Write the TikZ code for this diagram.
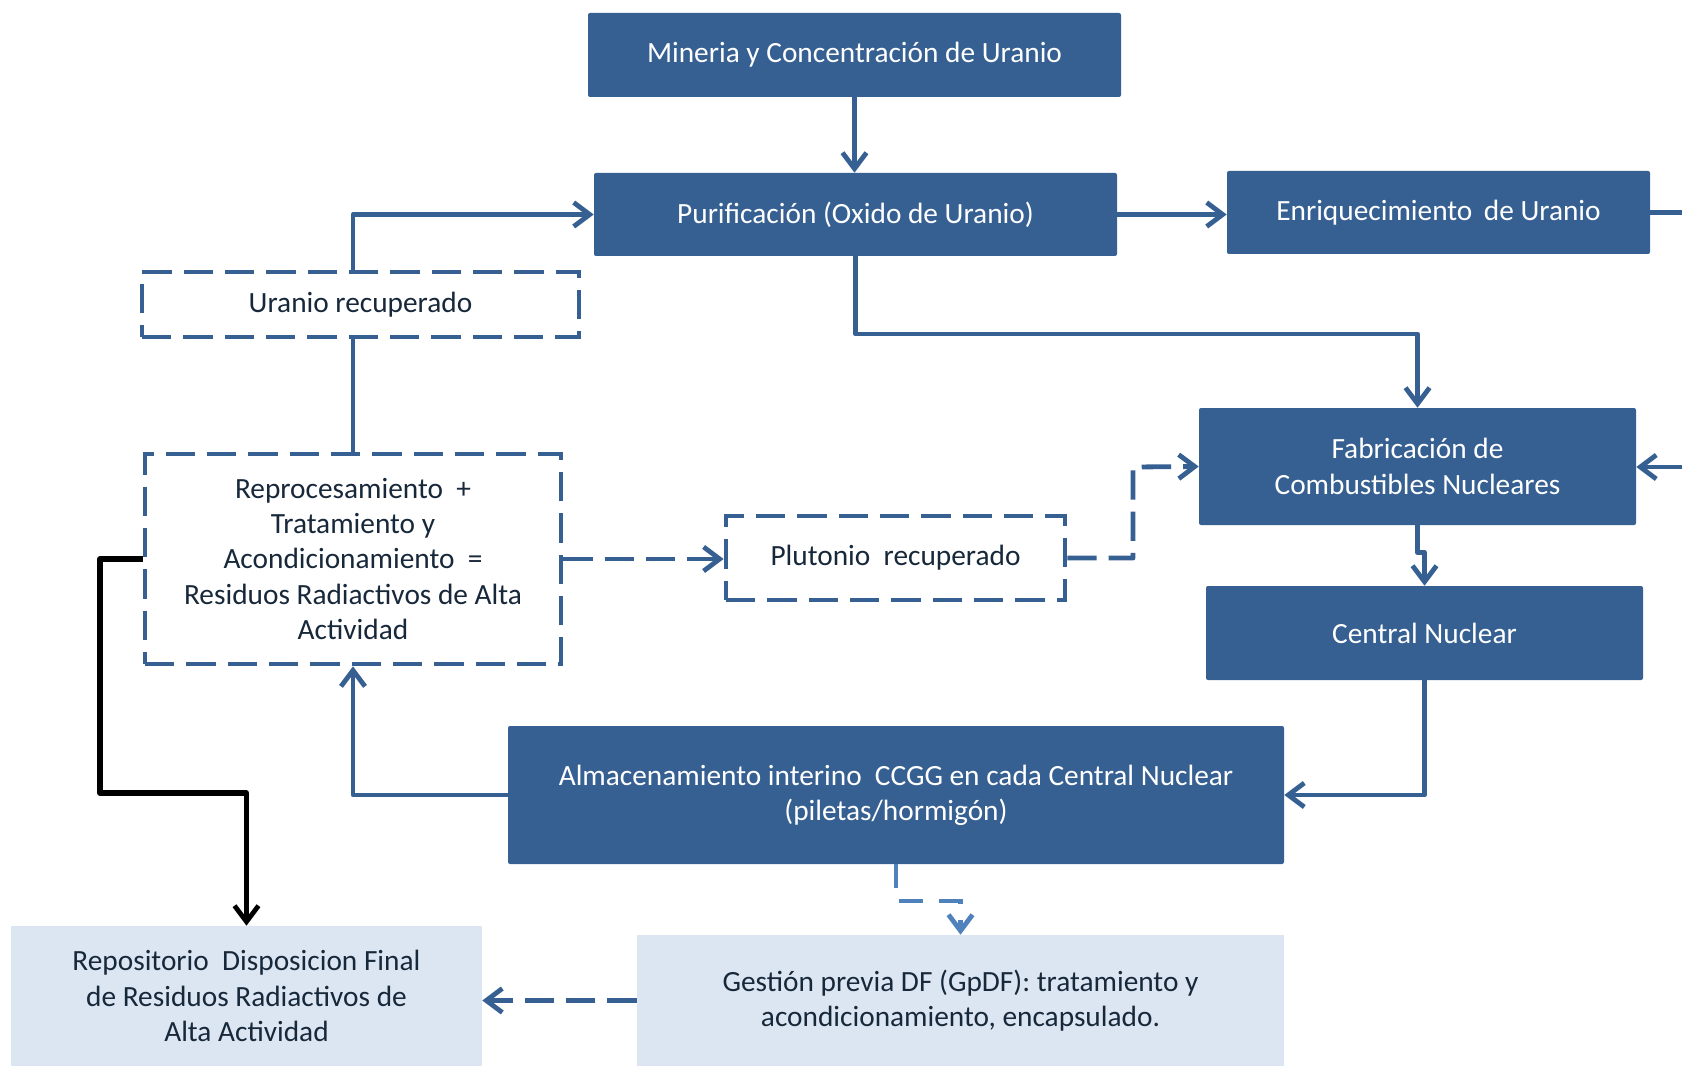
\documentclass[tikz,border=0pt]{standalone}
\usepackage{fontspec}
\setmainfont{Carlito}
\usetikzlibrary{arrows.meta}
\definecolor{dblue}{HTML}{376092}
\definecolor{lblue}{HTML}{4F81BD}
\definecolor{pale}{HTML}{DCE6F2}
\definecolor{ink}{HTML}{17283A}
\begin{document}
\begin{tikzpicture}[x=0.75pt,y=-0.75pt,
  txt/.style={font=\fontsize{22}{26.5}\selectfont, align=center, inner sep=0pt},
  dbox/.style={txt, fill=dblue, text=white, rounded corners=1.5pt},
  pbox/.style={txt, fill=pale, text=ink},
  dashbox/.style={txt, draw=dblue, text=ink, line width=3.6pt, dash pattern=on 22pt off 9pt},
  tip/.style={-{Straight Barb[length=12pt,width=18pt,line width=3.6pt]}},
  conn/.style={draw=dblue, line width=3.6pt, line join=round},
  dconn/.style={conn, dash pattern=on 22pt off 9pt},
  lconn/.style={draw=lblue, line width=3.6pt, dash pattern=on 18pt off 12pt},
  bconn/.style={draw=black, line width=3.9pt, line join=round}
]
\useasboundingbox (0,0) rectangle (1682,1066);
\fill[white] (0,0) rectangle (1682,1066);

\node[dbox, minimum width=399.75pt, minimum height=63pt] (min) at (854.5,55) {Mineria y Concentración de Uranio};
\node[dbox, minimum width=392.25pt, minimum height=62.25pt] (pur) at (855.5,214.5) {Purificación (Oxido de Uranio)};
\node[dbox, minimum width=317.25pt, minimum height=62.25pt] (enr) at (1438.5,212.5) {Enriquecimiento\, de Uranio};
\node[dbox, minimum width=327.75pt, minimum height=87.75pt] (fab) at (1417.5,466.5) {Fabricación de\\Combustibles Nucleares};
\node[dbox, minimum width=327.75pt, minimum height=70.5pt] (cen) at (1424.5,633) {Central Nuclear};
\node[dbox, minimum width=582pt, minimum height=103.5pt] (alm) at (896,795) {Almacenamiento interino \ CCGG en cada Central Nuclear\\(piletas/hormigón)};
\node[pbox, minimum width=485.25pt, minimum height=98.25pt] (ges) at (960.5,1000.5) {Gestión previa DF (GpDF): tratamiento y\\acondicionamiento, encapsulado.};
\node[pbox, minimum width=353.25pt, minimum height=105pt] (rep) at (246.5,996) {Repositorio \ Disposicion Final\\de Residuos Radiactivos de\\Alta Actividad};
\node[dashbox, minimum width=327.75pt, minimum height=48.75pt] (ura) at (360.5,304.5) {Uranio recuperado};
\node[dashbox, minimum width=312pt, minimum height=157.5pt] (rpr) at (353,559) {Reprocesamiento \ +\\Tratamiento y\\Acondicionamiento \ =\\Residuos Radiactivos de Alta\\Actividad};
\node[dashbox, minimum width=254.25pt, minimum height=63pt] (plu) at (895.5,558) {Plutonio \ recuperado};

\coordinate (enrOut) at (1682,214);
\coordinate (fabIn) at (1682,467);
\coordinate (j1) at (0,334);
\coordinate (j2) at (1133,467);
\coordinate (j3) at (0,901);
\coordinate (k1) at (100,793);

\draw[conn, tip] (min.south) -- (min.south |- pur.north);
\draw[conn, tip] (pur.east) -- (pur.east -| enr.west);
\draw[conn] (enr.east) -- (enr.east -| enrOut);
\draw[conn, tip] (fabIn) -- (fabIn -| fab.east);
\draw[conn, tip] (pur.south) -- (pur.south |- j1) -| (fab.north);
\draw[conn] (rpr.north) -- (rpr.north |- ura.south);
\draw[conn, tip] (ura.north -| rpr.north) |- (pur.west);
\draw[dconn, tip] (rpr.east) -- (rpr.east -| plu.west);
\draw[dconn, tip] (plu.east) -| (j2) -- (fab.west);
\draw[conn, tip] (fab.south) -- ++(0,27) -| (cen.north);
\draw[conn, tip] (cen.south) |- (alm.east);
\draw[conn, tip] (alm.west) -| (rpr.south);
\draw[lconn, tip] (alm.south) -- (alm.south |- j3) -| (ges.north);
\draw[dconn, tip] (ges.west) -- (ges.west -| rep.east);
\draw[bconn, tip] (rpr.west) -| (k1) -| (rep.north);
\end{tikzpicture}
\end{document}
